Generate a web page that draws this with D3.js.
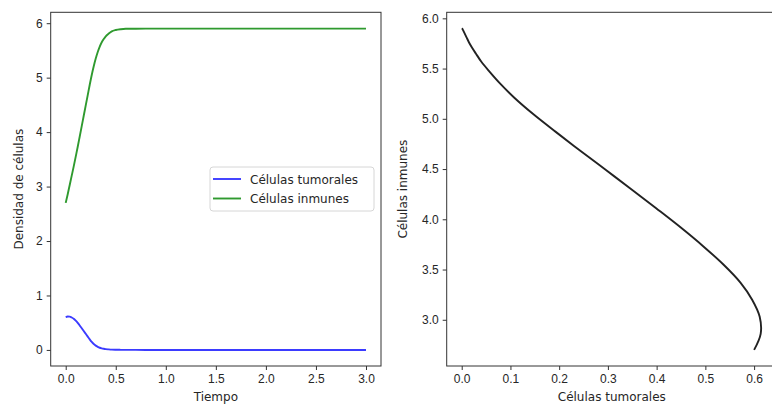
<!DOCTYPE html>
<html>
<head>
<meta charset="utf-8">
<script src="https://cdn.jsdelivr.net/npm/d3@7"></script>
<style>
  body { margin: 0; background: #fff; }
  svg { display: block; font-family: "DejaVu Sans", sans-serif; }
  .axis text { fill: #262626; font-size: 12px; }
  .axis path, .axis line { stroke: #333; }
  .label { fill: #262626; font-size: 12px; }
</style>
</head>
<body>
<div id="chart"></div>
<script>
// time samples
const tiempo = [0, 0.02, 0.04, 0.06, 0.08, 0.10, 0.12, 0.14, 0.16, 0.18, 0.20, 0.22, 0.24, 0.26, 0.28,
  0.30, 0.32, 0.34, 0.36, 0.38, 0.40, 0.43, 0.46, 0.50, 0.55, 0.60, 0.70, 0.80, 1.0, 1.5, 2.0, 2.5, 3.0];

// immune cells (green)
const inmunes = [2.70, 2.86, 3.03, 3.20, 3.37, 3.55, 3.73, 3.92, 4.11, 4.30, 4.49, 4.68, 4.87, 5.05, 5.21,
  5.35, 5.47, 5.57, 5.65, 5.71, 5.76, 5.81, 5.85, 5.875, 5.89, 5.897, 5.899, 5.9, 5.9, 5.9, 5.9, 5.9, 5.9];

// tumor cells (blue)
const tumorales = [0.600, 0.6135, 0.6115, 0.596, 0.572, 0.537, 0.496, 0.449, 0.399, 0.348, 0.296, 0.244, 0.193, 0.146, 0.108,
  0.079, 0.057, 0.040, 0.029, 0.021, 0.015, 0.010, 0.006, 0.0035, 0.002, 0.001, 0.0004, 0.0001, 0, 0, 0, 0, 0];

const series = [
  { name: "Células tumorales", values: tumorales, color: "#3b3bff" },
  { name: "Células inmunes", values: inmunes, color: "#2f9a2f" }
];

const leftTicksX = [0, 0.5, 1.0, 1.5, 2.0, 2.5, 3.0];
const leftTicksY = [0, 1, 2, 3, 4, 5, 6];
const rightTicksX = [0, 0.1, 0.2, 0.3, 0.4, 0.5, 0.6];
const rightTicksY = [3.0, 3.5, 4.0, 4.5, 5.0, 5.5, 6.0];

const W = 772, H = 405;
const plotTop = 12.3, plotBottom = 366;

const svg = d3.select("#chart").append("svg")
  .attr("width", W)
  .attr("height", H);

// ---------- left plot ----------
const x1 = d3.scaleLinear().domain([-0.15, 3.15]).range([50.7, 381]);
const y1 = d3.scaleLinear().domain([-0.295, 6.2]).range([plotBottom, plotTop]);

const g1 = svg.append("g");

g1.append("g")
  .attr("class", "axis")
  .attr("transform", "translate(0," + plotBottom + ")")
  .call(d3.axisBottom(x1).tickValues(leftTicksX).tickFormat(d3.format(".1f")).tickSize(4).tickPadding(4))
  .call(g => g.select(".domain").remove());

g1.append("g")
  .attr("class", "axis")
  .attr("transform", "translate(50.7,0)")
  .call(d3.axisLeft(y1).tickValues(leftTicksY).tickFormat(d3.format("d")).tickSize(4).tickPadding(4))
  .call(g => g.select(".domain").remove());

const line1 = vals => d3.line()
  .x((d, i) => x1(tiempo[i]))
  .y(d => y1(d))
  .curve(d3.curveMonotoneX)(vals);

series.forEach(s => {
  g1.append("path")
    .attr("d", line1(s.values))
    .attr("fill", "none")
    .attr("stroke", s.color)
    .attr("stroke-width", 1.9);
});

g1.append("rect")
  .attr("x", 50.7).attr("y", plotTop)
  .attr("width", 381 - 50.7).attr("height", plotBottom - plotTop)
  .attr("fill", "none").attr("stroke", "#333").attr("stroke-width", 1);

// legend
const leg = g1.append("g").attr("transform", "translate(210,167)");
leg.append("rect")
  .attr("width", 164).attr("height", 44)
  .attr("rx", 3)
  .attr("fill", "#fff").attr("stroke", "#d6d6d6");
series.forEach((s, i) => {
  leg.append("line")
    .attr("x1", 3).attr("x2", 31)
    .attr("y1", 12 + i * 19.5).attr("y2", 12 + i * 19.5)
    .attr("stroke", s.color).attr("stroke-width", 1.9);
  leg.append("text")
    .attr("class", "label")
    .attr("x", 40).attr("y", 16.5 + i * 19.5)
    .text(s.name);
});

g1.append("text")
  .attr("class", "label")
  .attr("x", x1(1.5)).attr("y", 401)
  .attr("text-anchor", "middle")
  .text("Tiempo");

g1.append("text")
  .attr("class", "label")
  .attr("transform", "translate(23," + ((plotTop + plotBottom) / 2) + ") rotate(-90)")
  .attr("text-anchor", "middle")
  .text("Densidad de células");

// ---------- right plot ----------
const x2 = d3.scaleLinear().domain([-0.0308, 0.6468]).range([446.7, 776.9]);
const y2 = d3.scaleLinear().domain([2.54, 6.06]).range([plotBottom, plotTop]);

const g2 = svg.append("g");

g2.append("g")
  .attr("class", "axis")
  .attr("transform", "translate(0," + plotBottom + ")")
  .call(d3.axisBottom(x2).tickValues(rightTicksX).tickFormat(d3.format(".1f")).tickSize(4).tickPadding(4))
  .call(g => g.select(".domain").remove());

g2.append("g")
  .attr("class", "axis")
  .attr("transform", "translate(446.7,0)")
  .call(d3.axisLeft(y2).tickValues(rightTicksY).tickFormat(d3.format(".1f")).tickSize(4).tickPadding(4))
  .call(g => g.select(".domain").remove());

const phase = d3.line()
  .x((d, i) => x2(tumorales[i]))
  .y(d => y2(d))
  .curve(d3.curveCatmullRom.alpha(0.5));

g2.append("path")
  .attr("d", phase(inmunes.slice(0, 28)))
  .attr("fill", "none")
  .attr("stroke", "#222")
  .attr("stroke-width", 1.9);

g2.append("rect")
  .attr("x", 446.7).attr("y", plotTop)
  .attr("width", 776.9 - 446.7).attr("height", plotBottom - plotTop)
  .attr("fill", "none").attr("stroke", "#333").attr("stroke-width", 1);

g2.append("text")
  .attr("class", "label")
  .attr("x", x2(0.308)).attr("y", 401)
  .attr("text-anchor", "middle")
  .text("Células tumorales");

g2.append("text")
  .attr("class", "label")
  .attr("transform", "translate(407," + ((plotTop + plotBottom) / 2) + ") rotate(-90)")
  .attr("text-anchor", "middle")
  .text("Células inmunes");
</script>
</body>
</html>
